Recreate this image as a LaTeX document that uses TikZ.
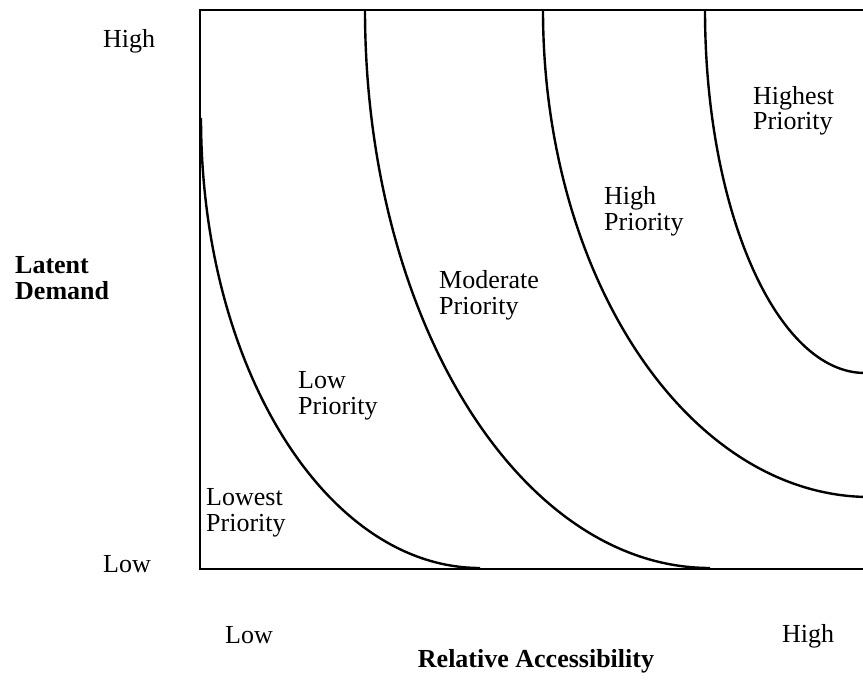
\documentclass[tikz,border=0pt]{standalone}
\usepackage{fontspec}
\setmainfont{Liberation Serif}
\begin{document}
\begin{tikzpicture}[x=1pt,y=1pt,
  lab/.style={anchor=base west,inner sep=0pt,font=\fontsize{26}{26}\selectfont},
  blab/.style={anchor=base west,inner sep=0pt,font=\fontsize{26}{26}\selectfont\bfseries},
  frame/.style={line width=2.2pt},
  curve/.style={line width=2.4pt}]
\useasboundingbox (0,0) rectangle (863,681);
\clip (0,0) rectangle (863,681);
% frame
\draw[frame] (900,671) -- (200,671) -- (200,112) -- (900,112);
% curves
\draw[curve] (201,563) arc[start angle=180,end angle=270,x radius=279,y radius=450];
\draw[curve] (365,671) arc[start angle=180,end angle=270,x radius=345,y radius=558];
\draw[curve] (543,671) arc[start angle=180,end angle=270,x radius=327,y radius=487];
\draw[curve] (705,671) arc[start angle=180,end angle=270,x radius=160,y radius=363];
% axis labels
\node[lab] (yhigh) at (103,633) {High};
\node[lab] (ylow) at (103,108) {Low};
\node[blab] (ld1) at (15,407) {Latent};
\node[blab] (ld2) at (15,381) {Demand};
\node[lab] (xlow) at (225,38) {Low};
\node[lab] (xhigh) at (782,39) {High};
\node[blab,anchor=base] (ra) at (536,14) {Relative Accessibility};
% region labels
\node[lab] (h1) at (753,576) {Highest};
\node[lab] (h2) at (753,551) {Priority};
\node[lab] (g1) at (604,476) {High};
\node[lab] (g2) at (604,450) {Priority};
\node[lab] (m1) at (439,392) {Moderate};
\node[lab] (m2) at (439,366) {Priority};
\node[lab] (l1) at (298,292) {Low};
\node[lab] (l2) at (298,266) {Priority};
\node[lab] (w1) at (206,175) {Lowest};
\node[lab] (w2) at (206,149) {Priority};
\end{tikzpicture}
\end{document}
